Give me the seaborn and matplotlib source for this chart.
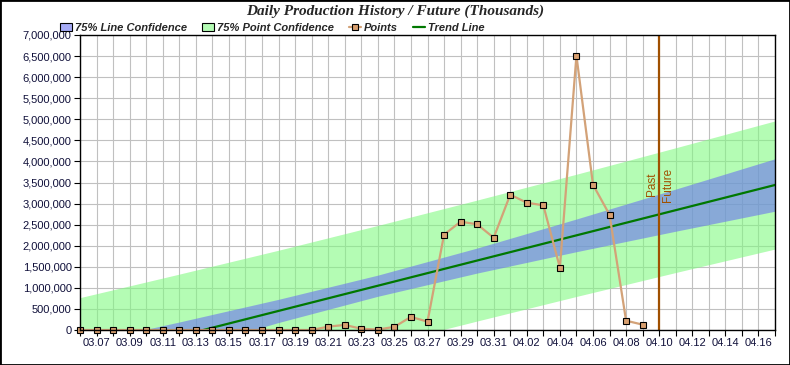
import numpy as np
import pandas as pd
import matplotlib
matplotlib.use("Agg")
import matplotlib.pyplot as plt
import matplotlib.dates as mdates
from matplotlib.patches import Patch, Rectangle
from matplotlib.lines import Line2D
from matplotlib.ticker import FuncFormatter, MultipleLocator
import seaborn as sns

# ---------------- data ----------------
point_dates = ["03.06", "03.07", "03.08", "03.09", "03.10", "03.11", "03.12",
               "03.13", "03.14", "03.15", "03.16", "03.17", "03.18", "03.19",
               "03.20", "03.21", "03.22", "03.23", "03.24", "03.25", "03.26",
               "03.27", "03.28", "03.29", "03.30", "03.31", "04.01", "04.02",
               "04.03", "04.04", "04.05", "04.06", "04.07", "04.08", "04.09"]
point_values = [0, 0, 0, 0, 0, 0, 0, 0, 0, 0, 0, 0, 0, 0, 0,
                80000, 120000, 30000, 10000, 75000, 312000, 198000,
                2262000, 2571000, 2508000, 2190000, 3211000, 3021000,
                2958000, 1479000, 6510000, 3449000, 2736000, 221000, 127000]

band_dates = ["03.06", "03.12", "03.18", "03.24", "03.30", "04.05", "04.11", "04.17"]
line_conf_upper = [-330000, 190000, 728000, 1302000, 1945000, 2634000, 3344000, 4063000]
line_conf_lower = [-1203000, -498000, 178000, 800000, 1351000, 1858000, 2344000, 2819000]
point_conf_upper = [768000, 1326000, 1893000, 2481000, 3083000, 3696000, 4324000, 4961000]
point_conf_lower = [-2252000, -1614000, -987000, -379000, 213000, 796000, 1364000, 1921000]

trend_dates = ["03.06", "04.17"]
trend_values = [-742000, 3441000]

divider_date = "04.10"
axis_start, axis_end = "03.06", "04.17"
first_label_date = "03.07"

title = "Daily Production History / Future (Thousands)"
legend_labels = ["75% Line Confidence", "75% Point Confidence", "Points", "Trend Line"]


def to_dt(labels):
    return pd.to_datetime(["2020." + s for s in labels], format="%Y.%m.%d")


pts = pd.DataFrame({"date": to_dt(point_dates), "value": point_values})
band = pd.DataFrame({"date": to_dt(band_dates),
                     "lu": line_conf_upper, "ll": line_conf_lower,
                     "pu": point_conf_upper, "pl": point_conf_lower})
trend = pd.DataFrame({"date": to_dt(trend_dates), "value": trend_values})

# ---------------- figure ----------------
sns.set_style("white")
plt.rcParams["font.family"] = ["Liberation Sans", "DejaVu Sans"]

fig = plt.figure(figsize=(7.9, 3.65), dpi=100)
ax = fig.add_axes([80 / 790, 35 / 365, 695 / 790, 295 / 365])

grid_c = "#c0c0c0"
green_c = (130 / 255, 250 / 255, 130 / 255)
blue_c = (107 / 255, 115 / 255, 240 / 255)
green_leg = "#b4fcb4"
blue_leg = "#a6abf6"
pt_line_c = "#d3a278"
pt_face_c = "#d9a070"
trend_c = "#007800"
div_c = "#a05000"

ax.fill_between(band["date"], band["pl"], band["pu"], color=green_c, alpha=0.6,
                lw=0, zorder=2)
ax.fill_between(band["date"], band["ll"], band["lu"], color=blue_c, alpha=0.6,
                lw=0, zorder=3)

sns.lineplot(data=trend, x="date", y="value", ax=ax, color=trend_c, lw=1.6,
             zorder=4, legend=False)
sns.lineplot(data=pts, x="date", y="value", ax=ax, color=pt_line_c, lw=1.6,
             marker="s", markersize=4.6, markerfacecolor=pt_face_c,
             markeredgecolor="black", markeredgewidth=0.8, zorder=6,
             legend=False, clip_on=False)

div_x = to_dt([divider_date])[0]
ax.axvline(div_x, color=div_c, lw=1.6, zorder=5)
ax.text(div_x - pd.Timedelta(hours=11), 3450000, "Past", rotation=90,
        ha="center", va="center", color=div_c, fontsize=8.5, zorder=7)
ax.text(div_x + pd.Timedelta(hours=13), 3450000, "Future", rotation=90,
        ha="center", va="center", color=div_c, fontsize=8.5, zorder=7)

x0, x1 = to_dt([axis_start, axis_end])
ax.set_xlim(x0, x1)
ax.set_ylim(0, 7000000)

ax.xaxis.set_minor_locator(mdates.DayLocator())
ax.yaxis.set_major_locator(MultipleLocator(500000))
ax.yaxis.set_major_formatter(FuncFormatter(lambda v, p: f"{int(v):,}"))

ticks = pd.date_range(to_dt([first_label_date])[0], x1, freq="2D")
ax.set_xticks(ticks)
ax.set_xticklabels([t.strftime("%m.%d") for t in ticks])

ax.grid(True, which="both", axis="x", color=grid_c, lw=0.8, zorder=1)
ax.grid(True, which="major", axis="y", color=grid_c, lw=0.8, zorder=1)
ax.set_axisbelow(True)

for s in ax.spines.values():
    s.set_color("black")
    s.set_linewidth(1.0)
    s.set_zorder(8)

ax.tick_params(axis="both", which="both", direction="out", length=4, width=0.8,
               color="black", labelsize=8, labelcolor="#10103a", pad=2)
ax.tick_params(axis="x", which="both", bottom=True)
ax.tick_params(axis="y", left=True)
ax.set_xlabel("")
ax.set_ylabel("")

# title
fig.text(0.5, 1 - 11 / 365, title, ha="center", va="center",
         family=["Liberation Serif", "DejaVu Serif"], fontsize=11,
         fontweight="bold", fontstyle="italic")

# legend
handles = [
    Patch(facecolor=blue_leg, edgecolor="black", lw=0.8),
    Patch(facecolor=green_leg, edgecolor="black", lw=0.8),
    Line2D([], [], color=pt_line_c, lw=1.6, marker="s", markersize=4.6,
           markerfacecolor=pt_face_c, markeredgecolor="black",
           markeredgewidth=0.8),
    Line2D([], [], color=trend_c, lw=1.6),
]
leg = fig.legend(handles, legend_labels, loc="center left",
                 bbox_to_anchor=(54 / 790, 1 - 28 / 365), ncol=4, frameon=False,
                 handlelength=1.1, handleheight=0.7, handletextpad=0.3,
                 columnspacing=1.3, borderpad=0,
                 prop={"family": ["Liberation Sans"],
                       "weight": "bold", "style": "italic", "size": 8})

fig.patches.append(Rectangle((0, 0), 1, 1, transform=fig.transFigure,
                             fill=False, edgecolor="black", lw=2))

fig.savefig("out.png", dpi=100, facecolor="white")
